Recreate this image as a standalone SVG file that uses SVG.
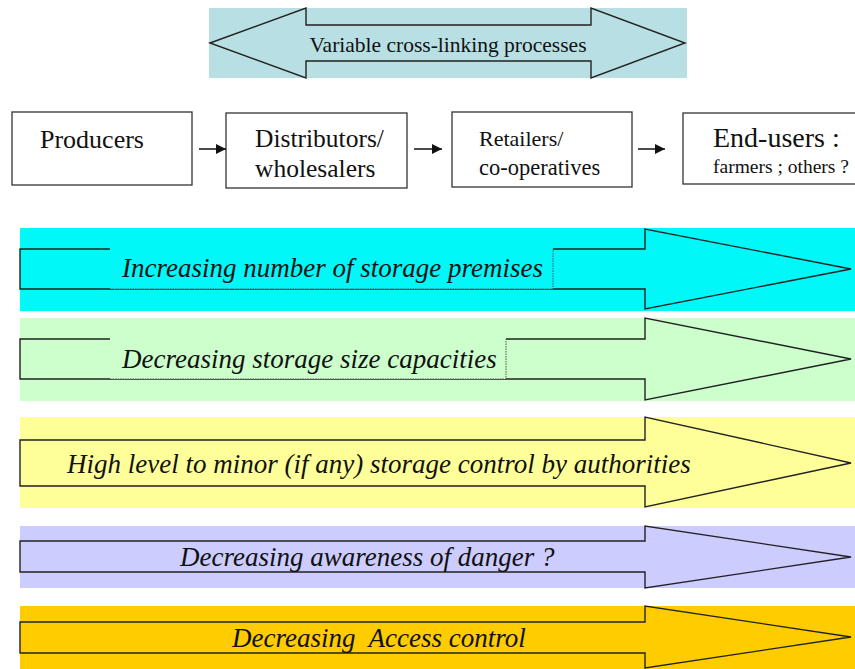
<svg xmlns="http://www.w3.org/2000/svg" width="855" height="669" viewBox="0 0 855 669">
<defs>
<style>
text{font-family:'Liberation Serif','Times New Roman','DejaVu Serif',serif;fill:#111}
.it{font-style:italic;font-size:27px;white-space:pre}
.box{fill:#fff;stroke:#333;stroke-width:1.3}
.arr{stroke:#222;stroke-width:1.4;stroke-linejoin:miter}
.dot{fill:none;stroke:#555;stroke-width:1;stroke-dasharray:1.5 1}
.con{stroke:#111;stroke-width:1.5;fill:none}
</style>
<marker id="ah" viewBox="0 0 10 10" refX="10" refY="5" markerWidth="10" markerHeight="10" markerUnits="userSpaceOnUse" orient="auto">
<path d="M0,0 L10,5 L0,10 z" fill="#111"/>
</marker>
</defs>
<rect width="855" height="669" fill="#fff"/>

<g id="cross-linking">
<rect x="209" y="8" width="478" height="70" fill="#b8dfe3"/>
<polygon class="arr" fill="#b8dfe3" points="210,43 306,8 306,25 591,25 591,8 685,43 591,78 591,61 306,61 306,78"/>
<text font-family="Liberation Serif, serif" x="448" y="52" font-size="21.5" text-anchor="middle">Variable cross-linking processes</text>
</g>

<g id="producers">
<rect class="box" x="12" y="112" width="180" height="73"/>
<text font-family="Liberation Serif, serif" x="40" y="148" font-size="26">Producers</text>
</g>
<g id="distributors">
<rect class="box" x="226" y="113" width="181" height="75"/>
<text font-family="Liberation Serif, serif" x="255" y="147" font-size="25.5">Distributors/</text>
<text font-family="Liberation Serif, serif" x="255" y="177" font-size="25.5">wholesalers</text>
</g>
<g id="retailers">
<rect class="box" x="452" y="112" width="180" height="75"/>
<text font-family="Liberation Serif, serif" x="479" y="146" font-size="22">Retailers/</text>
<text font-family="Liberation Serif, serif" x="479" y="175" font-size="22.5">co-operatives</text>
</g>
<g id="end-users">
<rect class="box" x="683" y="113" width="200" height="71"/>
<text font-family="Liberation Serif, serif" x="713" y="147" font-size="28">End-users :</text>
<text font-family="Liberation Serif, serif" x="713" y="173" font-size="19.5">farmers ; others ?</text>
</g>

<g id="connectors">
<line class="con" x1="199" y1="149" x2="226" y2="149" marker-end="url(#ah)"/>
<line class="con" x1="414" y1="149" x2="442" y2="149" marker-end="url(#ah)"/>
<line class="con" x1="638" y1="149" x2="665" y2="149" marker-end="url(#ah)"/>
</g>

<g id="band-storage-premises">
<rect x="20" y="228" width="835" height="83" fill="#00f8f8"/>
<polygon class="arr" fill="#00f8f8" points="20,249 645,249 645,229 851,269 645,309 645,289 20,289"/>
<rect x="110" y="247" width="443" height="42" fill="#00f8f8"/>
<path class="dot" d="M110,289 H553 V249"/>
<text class="it" font-family="Liberation Serif, serif" x="122" y="277">Increasing number of storage premises</text>
</g>

<g id="band-storage-size">
<rect x="20" y="318" width="835" height="83" fill="#ccffcc"/>
<polygon class="arr" fill="#ccffcc" points="20,339 645,339 645,318 851,359 645,400 645,379 20,379"/>
<rect x="110" y="337" width="396" height="42" fill="#ccffcc"/>
<path class="dot" d="M110,379 H506 V339"/>
<text class="it" font-family="Liberation Serif, serif" x="122" y="368">Decreasing storage size capacities</text>
</g>

<g id="band-storage-control">
<rect x="20" y="417" width="835" height="91" fill="#ffff99"/>
<polygon class="arr" fill="#ffff99" points="20,440 645,440 645,417 851,463 645,507 645,486 20,486"/>
<text class="it" font-family="Liberation Serif, serif" x="67" y="473">High level to minor (if any) storage control by authorities</text>
</g>

<g id="band-awareness">
<rect x="20" y="526" width="835" height="62" fill="#ccccff"/>
<polygon class="arr" fill="#ccccff" points="20,541 645,541 645,526 851,557 645,588 645,572 20,572"/>
<text class="it" font-family="Liberation Serif, serif" x="180" y="566" font-size="29.5">Decreasing awareness of danger ?</text>
</g>

<g id="band-access">
<rect x="20" y="606" width="835" height="63" fill="#ffcc00"/>
<polygon class="arr" fill="#ffcc00" points="20,622 645,622 645,606 851,637 645,668 645,653 20,653"/>
<text class="it" font-family="Liberation Serif, serif" x="232" y="647" font-size="29">Decreasing  Access control</text>
</g>
</svg>
